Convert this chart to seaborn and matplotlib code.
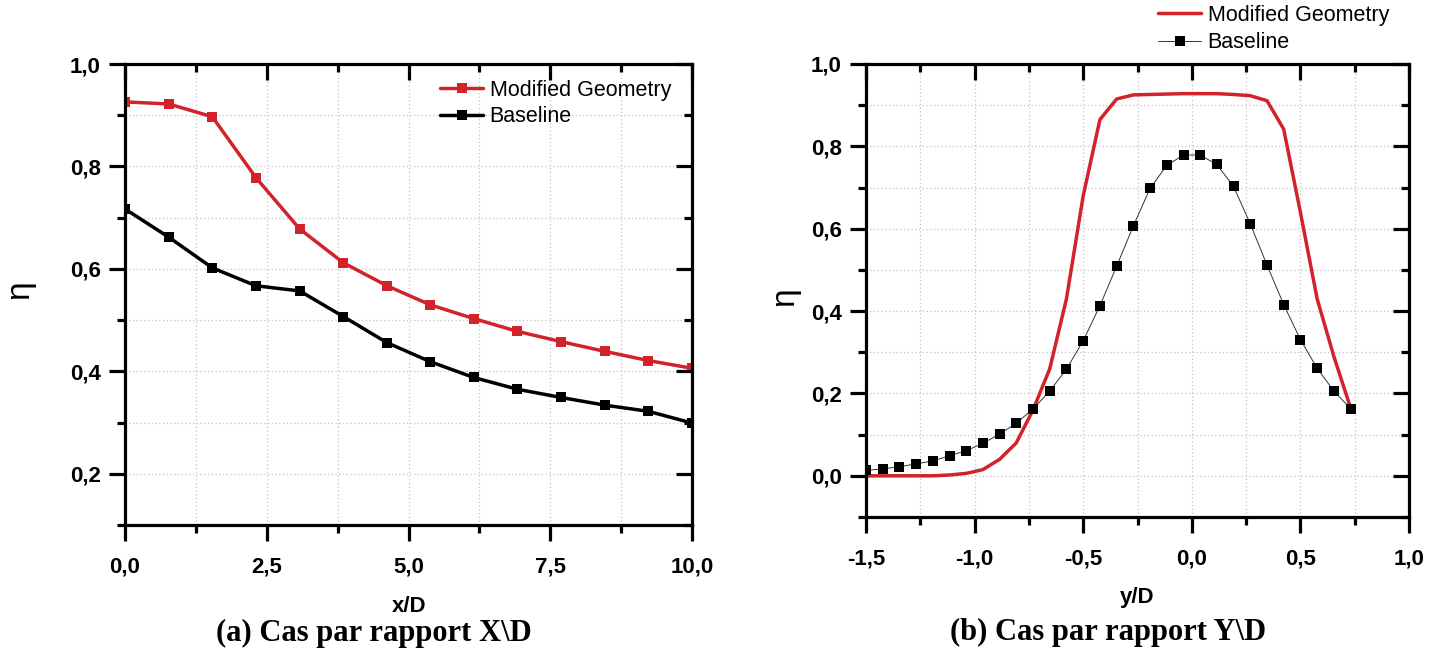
import matplotlib
matplotlib.use("Agg")
import matplotlib.pyplot as plt
from matplotlib.ticker import MultipleLocator, FuncFormatter
import seaborn as sns

# ---------------- data ----------------
xd = [0.0, 0.77, 1.54, 2.31, 3.08, 3.85, 4.62, 5.38, 6.15, 6.92, 7.69, 8.46, 9.23, 10.0]
eta_x_modified = [0.926, 0.922, 0.897, 0.778, 0.678, 0.612, 0.567, 0.530, 0.503,
                  0.478, 0.458, 0.439, 0.421, 0.406]
eta_x_baseline = [0.717, 0.662, 0.602, 0.567, 0.557, 0.507, 0.456, 0.419, 0.388,
                  0.365, 0.349, 0.334, 0.322, 0.299]

yd = [-1.500, -1.423, -1.346, -1.269, -1.192, -1.115, -1.038, -0.962, -0.885, -0.808,
      -0.731, -0.654, -0.577, -0.500, -0.423, -0.346, -0.269, -0.192, -0.115, -0.038,
      0.038, 0.115, 0.192, 0.269, 0.346, 0.423, 0.500, 0.577, 0.654, 0.731]
eta_y_modified = [0.0, 0.0, 0.0, 0.0, 0.0, 0.002, 0.006, 0.015, 0.040, 0.080,
                  0.160, 0.260, 0.430, 0.680, 0.865, 0.915, 0.925, 0.926, 0.927, 0.928,
                  0.928, 0.928, 0.926, 0.923, 0.911, 0.842, 0.640, 0.430, 0.290, 0.165]
eta_y_baseline = [0.013, 0.017, 0.022, 0.029, 0.036, 0.049, 0.061, 0.079, 0.101, 0.128,
                  0.162, 0.206, 0.259, 0.328, 0.413, 0.509, 0.607, 0.698, 0.754, 0.779,
                  0.779, 0.756, 0.703, 0.612, 0.512, 0.416, 0.331, 0.261, 0.206, 0.163]

series_labels = ["Modified Geometry", "Baseline"]
captions = ["(a) Cas par rapport X\\D", "(b) Cas par rapport Y\\D"]

RED = "#d2232a"
BLACK = "#000000"

sns.set_style("ticks")
plt.rcParams["font.family"] = ["Liberation Sans", "DejaVu Sans"]
plt.rcParams["text.color"] = "black"
plt.rcParams["axes.labelcolor"] = "black"
plt.rcParams["xtick.color"] = "black"
plt.rcParams["ytick.color"] = "black"

W, H = 1442, 655
fig = plt.figure(figsize=(W / 100, H / 100), dpi=100)

def fx(px):
    return px / W

def fy(py):
    return 1 - py / H

ax1 = fig.add_axes([fx(125), fy(525), fx(692) - fx(125), fy(64) - fy(525)])
ax2 = fig.add_axes([fx(866), fy(517), fx(1409) - fx(866), fy(64) - fy(517)])

comma = FuncFormatter(lambda v, p: f"{v:.1f}".replace(".", ","))

# ---------- left plot ----------
sns.lineplot(x=xd, y=eta_x_modified, ax=ax1, color=RED, lw=2.5, marker="s",
             markersize=7, markeredgewidth=0, label=series_labels[0], sort=False)
sns.lineplot(x=xd, y=eta_x_baseline, ax=ax1, color=BLACK, lw=2.5, marker="s",
             markersize=7, markeredgewidth=0, label=series_labels[1], sort=False)
ax1.set_xlim(0, 10)
ax1.set_ylim(0.1, 1.0)

# ---------- right plot ----------
sns.lineplot(x=yd, y=eta_y_modified, ax=ax2, color=RED, lw=2.5,
             label=series_labels[0], sort=False)
sns.lineplot(x=yd, y=eta_y_baseline, ax=ax2, color="#333333", lw=0.7, marker="s",
             markersize=6.5, markeredgewidth=0, markerfacecolor=BLACK,
             label=series_labels[1], sort=False)
ax2.set_xlim(-1.5, 1.0)
ax2.set_ylim(-0.1, 1.0)

loc_specs = {
    ax1: ((2.5, 1.25), (0.2, 0.1)),
    ax2: ((0.5, 0.25), (0.2, 0.1)),
}

MAJ_L, MIN_L, TW = 11.5, 6, 2.3
for ax, ((xM, xm), (yM, ym)) in loc_specs.items():
    ax.set_xlabel("")
    ax.set_ylabel("")
    ax.xaxis.set_major_locator(MultipleLocator(xM))
    ax.xaxis.set_minor_locator(MultipleLocator(xm))
    ax.yaxis.set_major_locator(MultipleLocator(yM))
    ax.yaxis.set_minor_locator(MultipleLocator(ym))
    ax.xaxis.set_major_formatter(comma)
    ax.yaxis.set_major_formatter(comma)
    ax.grid(which="both", linestyle=(0, (1, 2)), color="#c4c4c4", linewidth=0.9)
    for s in ax.spines.values():
        s.set_visible(True)
        s.set_linewidth(TW)
        s.set_color("black")
    ax.tick_params(which="major", direction="out", length=MAJ_L, width=TW,
                   labelsize=16, colors="black")
    ax.tick_params(axis="x", which="major", pad=11)
    ax.tick_params(axis="y", which="major", pad=6)
    ax.tick_params(which="minor", direction="out", length=MIN_L, width=TW)
    for lab in ax.get_xticklabels() + ax.get_yticklabels():
        lab.set_fontweight("bold")
    # mirrored inward ticks on the top and right
    tx = ax.twiny()
    tx.set_xlim(ax.get_xlim())
    tx.xaxis.set_major_locator(MultipleLocator(xM))
    tx.xaxis.set_minor_locator(MultipleLocator(xm))
    tx.tick_params(axis="x", which="both", direction="in", top=True, bottom=False,
                   labeltop=False, labelbottom=False, width=TW)
    tx.tick_params(axis="x", which="major", length=MAJ_L)
    tx.tick_params(axis="x", which="minor", length=MIN_L)
    tx.tick_params(axis="y", left=False, right=False, labelleft=False, labelright=False)
    tx.grid(False)
    for s in tx.spines.values():
        s.set_visible(False)
    ty = ax.twinx()
    ty.set_ylim(ax.get_ylim())
    ty.yaxis.set_major_locator(MultipleLocator(yM))
    ty.yaxis.set_minor_locator(MultipleLocator(ym))
    ty.tick_params(axis="y", which="both", direction="in", right=True, left=False,
                   labelright=False, labelleft=False, width=TW)
    ty.tick_params(axis="y", which="major", length=MAJ_L)
    ty.tick_params(axis="y", which="minor", length=MIN_L)
    ty.tick_params(axis="x", top=False, bottom=False, labeltop=False, labelbottom=False)
    ty.grid(False)
    for s in ty.spines.values():
        s.set_visible(False)

# legends
ax1.legend(loc="upper left", bbox_to_anchor=((440 - 125) / 567, (525 - 80) / 461),
           frameon=False, fontsize=15.5, handlelength=2.0, handletextpad=0.3,
           labelspacing=0.25, borderpad=0, borderaxespad=0, labelcolor="black")
ax2.legend(loc="upper left", bbox_to_anchor=((1158 - 866) / 543, (517 - 5) / 453),
           frameon=False, fontsize=15.5, handlelength=2.0, handletextpad=0.3,
           labelspacing=0.3, borderpad=0, borderaxespad=0, labelcolor="black")

# axis labels and captions
fig.text(fx(409), fy(606), "x/D", ha="center", va="center", fontsize=16, fontweight="bold")
fig.text(fx(1137), fy(597), "y/D", ha="center", va="center", fontsize=16, fontweight="bold")
fig.text(fx(20), fy(290), "η", ha="center", va="center", fontsize=24, rotation=90)
fig.text(fx(785), fy(297), "η", ha="center", va="center", fontsize=24, rotation=90)
fig.text(fx(374), fy(633), captions[0], ha="center", va="center", fontsize=22,
         fontweight="bold", family=["Liberation Serif", "DejaVu Serif"])
fig.text(fx(1108), fy(632), captions[1], ha="center", va="center", fontsize=22,
         fontweight="bold", family=["Liberation Serif", "DejaVu Serif"])

fig.savefig("out.png", dpi=100)
